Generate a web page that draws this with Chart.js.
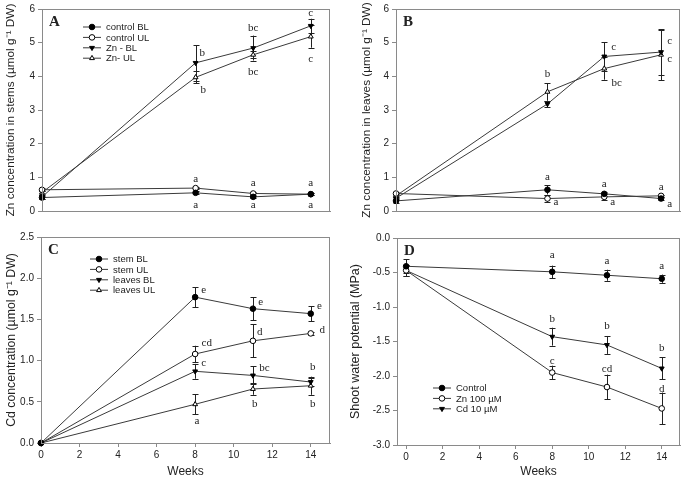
<!DOCTYPE html>
<html><head><meta charset="utf-8">
<script src="https://cdn.jsdelivr.net/npm/chart.js@4/dist/chart.umd.min.js"></script>
<style>
body{margin:0;background:#fff;width:685px;height:479px;overflow:hidden;position:relative}
canvas{position:absolute}
</style></head><body>
<canvas id="cA" width="342" height="225" style="left:0;top:0"></canvas>
<canvas id="cB" width="343" height="225" style="left:342px;top:0"></canvas>
<canvas id="cC" width="342" height="254" style="left:0;top:225px"></canvas>
<canvas id="cD" width="343" height="254" style="left:342px;top:225px"></canvas>
<script>
// ---------- data ----------
const weeks = [0, 8, 11, 14];
const xTicks = [0, 2, 4, 6, 8, 10, 12, 14];

// Panel A – Zn in stems
const aControlBL = [0.40, 0.54, 0.42, 0.50];
const aControlBLErr = [0.04, 0.04, 0.04, 0.03];
const aControlUL = [0.63, 0.68, 0.52, 0.50];
const aControlULErr = [0.04, 0.04, 0.04, 0.03];
const aZnBL = [0.42, 4.40, 4.84, 5.50];
const aZnBLErr = [0.05, 0.53, 0.37, 0.21];
const aZnUL = [0.55, 3.97, 4.64, 5.18];
const aZnULErr = [0.05, 0.18, 0.10, 0.33];

// Panel B – Zn in leaves
const bControlBL = [0.30, 0.63, 0.51, 0.37];
const bControlBLErr = [0.05, 0.14, 0.05, 0.05];
const bControlUL = [0.52, 0.37, 0.42, 0.45];
const bControlULErr = [0.05, 0.10, 0.08, 0.04];
const bZnBL = [0.38, 3.18, 4.59, 4.72];
const bZnBLErr = [0.05, 0.10, 0.42, 0.68];
const bZnUL = [0.45, 3.54, 4.23, 4.64];
const bZnULErr = [0.05, 0.26, 0.33, 0.75];

// Panel C – Cd concentration
const cStemBL = [0, 1.77, 1.63, 1.57];
const cStemBLErr = [0, 0.12, 0.14, 0.09];
const cStemUL = [0, 1.08, 1.24, 1.33];
const cStemULErr = [0, 0.10, 0.20, 0.02];
const cLeavesBL = [0, 0.87, 0.82, 0.74];
const cLeavesBLErr = [0, 0.09, 0.11, 0.05];
const cLeavesUL = [0, 0.47, 0.655, 0.695];
const cLeavesULErr = [0, 0.12, 0.07, 0.11];

// Panel D – shoot water potential
const dControl = [-0.41, -0.49, -0.54, -0.59];
const dControlErr = [0.10, 0.09, 0.08, 0.06];
const dZn = [-0.47, -1.95, -2.16, -2.47];
const dZnErr = [0.08, 0.10, 0.18, 0.23];
const dCd = [-0.47, -1.43, -1.55, -1.89];
const dCdErr = [0.08, 0.13, 0.13, 0.16];

// significance letters: [text, week, value]
const aLetters = [['b',8.35,4.69],['bc',11,5.42],['c',14,5.87],['b',8.4,3.6],['bc',11,4.13],['c',14,4.51],
  ['a',8,0.96],['a',11,0.82],['a',14,0.82],['a',8,0.17],['a',11,0.17],['a',14,0.17]];
const bLetters = [['b',8,4.06],['c',11.5,4.88],['bc',11.65,3.8],['c',14.45,5.05],['c',14.45,4.52],
  ['a',8,1.0],['a',11,0.81],['a',14,0.71],['a',8.45,0.25],['a',11.45,0.25],['a',14.45,0.2]];
const cLetters = [['e',8.45,1.86],['e',11.4,1.71],['e',14.45,1.66],['d',11.35,1.35],['d',14.6,1.37],
  ['cd',8.6,1.21],['c',8.45,0.97],['bc',11.6,0.91],['b',14.1,0.92],['b',11.1,0.47],['b',14.1,0.47],['a',8.1,0.26]];
const dLetters = [['a',8,-0.25],['a',11,-0.33],['a',14,-0.41],['b',8,-1.17],['b',11,-1.28],['b',14,-1.59],
  ['c',8,-1.78],['cd',11,-1.9],['d',14,-2.19]];

// ---------- styles ----------
const LINE = '#3a3a3a', FRAME = '#8a8a8a', TXT = '#222';
const SANS = "'Liberation Sans', Arial, sans-serif";
const SERIF = "'Liberation Serif', 'Times New Roman', serif";
const RAD = 2.8;
const mk = {
  fc: {pointStyle:'circle', pointBackgroundColor:'#000', pointRotation:0},
  oc: {pointStyle:'circle', pointBackgroundColor:'#fff', pointRotation:0},
  ft: {pointStyle:'triangle', pointBackgroundColor:'#000', pointRotation:180},
  ot: {pointStyle:'triangle', pointBackgroundColor:'#fff', pointRotation:0},
};
function ds(label, vals, errs, m) {
  return Object.assign({
    label, data: weeks.map((w,i)=>({x:w, y:vals[i]})), errors: errs,
    borderColor: LINE, borderWidth: 1, pointBorderColor:'#000', pointBorderWidth:1,
    pointRadius: RAD, clip: false, tension: 0
  }, m);
}

const extras = {
  id: 'extras',
  beforeDatasetsDraw(chart) {
    const ctx = chart.ctx, xs = chart.scales.x, ys = chart.scales.y;
    ctx.save();
    ctx.strokeStyle = '#222'; ctx.lineWidth = 1;
    chart.data.datasets.forEach(d => {
      d.data.forEach((p, j) => {
        const e = d.errors[j]; if (!e) return;
        const x = Math.round(xs.getPixelForValue(p.x)) + 0.5;
        const y1 = ys.getPixelForValue(p.y - e), y2 = ys.getPixelForValue(p.y + e);
        ctx.beginPath();
        ctx.moveTo(x, y1); ctx.lineTo(x, y2);
        ctx.moveTo(x - 3, Math.round(y1)+0.5); ctx.lineTo(x + 3, Math.round(y1)+0.5);
        ctx.moveTo(x - 3, Math.round(y2)+0.5); ctx.lineTo(x + 3, Math.round(y2)+0.5);
        ctx.stroke();
      });
    });
    ctx.restore();
  },
  afterDraw(chart, args, o) {
    const ctx = chart.ctx, a = chart.chartArea, xs = chart.scales.x, ys = chart.scales.y;
    ctx.save();
    ctx.strokeStyle = FRAME; ctx.lineWidth = 1;
    ctx.strokeRect(Math.round(a.left)+0.5, Math.round(a.top)+0.5, Math.round(a.right-a.left)-1, Math.round(a.bottom-a.top));
    // letters
    ctx.fillStyle = TXT; ctx.font = '11px ' + SERIF;
    ctx.textAlign = 'center'; ctx.textBaseline = 'middle';
    (o.letters || []).forEach(([t, wx, vy]) => ctx.fillText(t, xs.getPixelForValue(wx), ys.getPixelForValue(vy)));
    // panel label
    ctx.font = 'bold 15px ' + SERIF; ctx.textAlign = 'left';
    ctx.fillText(o.panel, a.left + 7, a.top + 13);
    // legend
    if (o.legend) {
      ctx.font = '9.5px ' + SANS;
      chart.data.datasets.forEach((d, i) => {
        const lx = a.left + o.legend.dx, ly = a.top + o.legend.dy + i * 10.4;
        ctx.strokeStyle = LINE; ctx.lineWidth = 1;
        ctx.beginPath(); ctx.moveTo(lx, ly); ctx.lineTo(lx + 18, ly); ctx.stroke();
        ctx.fillStyle = d.pointBackgroundColor; ctx.strokeStyle = '#000';
        Chart.helpers.drawPoint(ctx, {pointStyle: d.pointStyle, rotation: d.pointRotation, radius: RAD, borderWidth: 1}, lx + 9, ly);
        ctx.fillStyle = TXT; ctx.textAlign = 'left'; ctx.textBaseline = 'middle';
        ctx.fillText(d.label, lx + 23, ly + 0.5);
      });
    }
    ctx.restore();
  }
};

function makeChart(id, cfg) {
  const showX = cfg.showX;
  return new Chart(document.getElementById(id), {
    type: 'line',
    data: { datasets: cfg.datasets },
    options: {
      responsive: false, animation: false, devicePixelRatio: 1,
      layout: { padding: cfg.pad },
      plugins: { legend: {display:false}, tooltip: {enabled:false}, extras: cfg.extras },
      scales: {
        x: {
          type: 'linear', min: cfg.xmin, max: 15,
          afterBuildTicks: s => { s.ticks = xTicks.map(v => ({value: v})); },
          ticks: { display: showX, font: {size: 10, family: SANS}, color: TXT, padding: 2, maxRotation: 0 },
          grid: { display: showX, drawOnChartArea: false, tickLength: 4, color: FRAME },
          border: { color: FRAME },
          title: { display: showX, text: 'Weeks', font: {size: 12, family: SANS}, color: TXT, padding: {top: 2, bottom: 0} },
          afterFit: s => { s.height = cfg.xh; }
        },
        y: {
          min: cfg.ymin, max: cfg.ymax,
          afterBuildTicks: s => { s.ticks = cfg.yTicks.map(v => ({value: v})); },
          ticks: { font: {size: 10, family: SANS}, color: TXT, padding: 3, callback: cfg.yfmt },
          grid: { drawOnChartArea: false, tickLength: 4, color: FRAME },
          border: { color: FRAME },
          title: { display: true, text: cfg.ytitle, font: {size: cfg.tsize, family: SANS}, color: TXT, padding: {top: 4, bottom: 0} },
          afterFit: s => { s.width = cfg.yw; }
        }
      }
    },
    plugins: [extras]
  });
}

const znTicks = [0, 1, 2, 3, 4, 5, 6];
const cdTicks = [0, 0.5, 1.0, 1.5, 2.0, 2.5];
const psiTicks = [-3, -2.5, -2, -1.5, -1, -0.5, 0];

makeChart('cA', {
  datasets: [ds('control BL', aControlBL, aControlBLErr, mk.fc), ds('control UL', aControlUL, aControlULErr, mk.oc),
             ds('Zn - BL', aZnBL, aZnBLErr, mk.ft), ds('Zn- UL', aZnUL, aZnULErr, mk.ot)],
  pad: {left: 0, top: 5, right: 12, bottom: 0}, yw: 42, xh: 14, xmin: 0, showX: false,
  ymin: 0, ymax: 6, yTicks: znTicks, yfmt: v => v, tsize: 11.8,
  ytitle: 'Zn concentration in stems (µmol g⁻¹ DW)',
  extras: {panel: 'A', letters: aLetters, legend: {dx: 41, dy: 18}}
});
makeChart('cB', {
  datasets: [ds('control BL', bControlBL, bControlBLErr, mk.fc), ds('control UL', bControlUL, bControlULErr, mk.oc),
             ds('Zn - BL', bZnBL, bZnBLErr, mk.ft), ds('Zn- UL', bZnUL, bZnULErr, mk.ot)],
  pad: {left: 14, top: 5, right: 3, bottom: 0}, yw: 40, xh: 14, xmin: 0, showX: false,
  ymin: 0, ymax: 6, yTicks: znTicks, yfmt: v => v, tsize: 11.8,
  ytitle: 'Zn concentration in leaves (µmol g⁻¹ DW)',
  extras: {panel: 'B', letters: bLetters}
});
makeChart('cC', {
  datasets: [ds('stem BL', cStemBL, cStemBLErr, mk.fc), ds('stem UL', cStemUL, cStemULErr, mk.oc),
             ds('leaves BL', cLeavesBL, cLeavesBLErr, mk.ft), ds('leaves UL', cLeavesUL, cLeavesULErr, mk.ot)],
  pad: {left: 0, top: 12, right: 12, bottom: 0}, yw: 41, xh: 36, xmin: 0, showX: true,
  ymin: 0, ymax: 2.5, yTicks: cdTicks, yfmt: v => v.toFixed(1), tsize: 12.3,
  ytitle: 'Cd concentration (µmol g⁻¹ DW)',
  extras: {panel: 'C', letters: cLetters, legend: {dx: 49, dy: 22}}
});
makeChart('cD', {
  datasets: [ds('Control', dControl, dControlErr, mk.fc), ds('Zn 100 µM', dZn, dZnErr, mk.oc),
             ds('Cd 10 µM', dCd, dCdErr, mk.ft)],
  pad: {left: 2, top: 13, right: 2, bottom: 0}, yw: 53, xh: 34, xmin: -0.5, showX: true,
  ymin: -3, ymax: 0, yTicks: psiTicks, yfmt: v => v.toFixed(1), tsize: 12.5,
  ytitle: 'Shoot water potential (MPa)',
  extras: {panel: 'D', letters: dLetters, legend: {dx: 36, dy: 150}}
});
</script>
</body></html>
